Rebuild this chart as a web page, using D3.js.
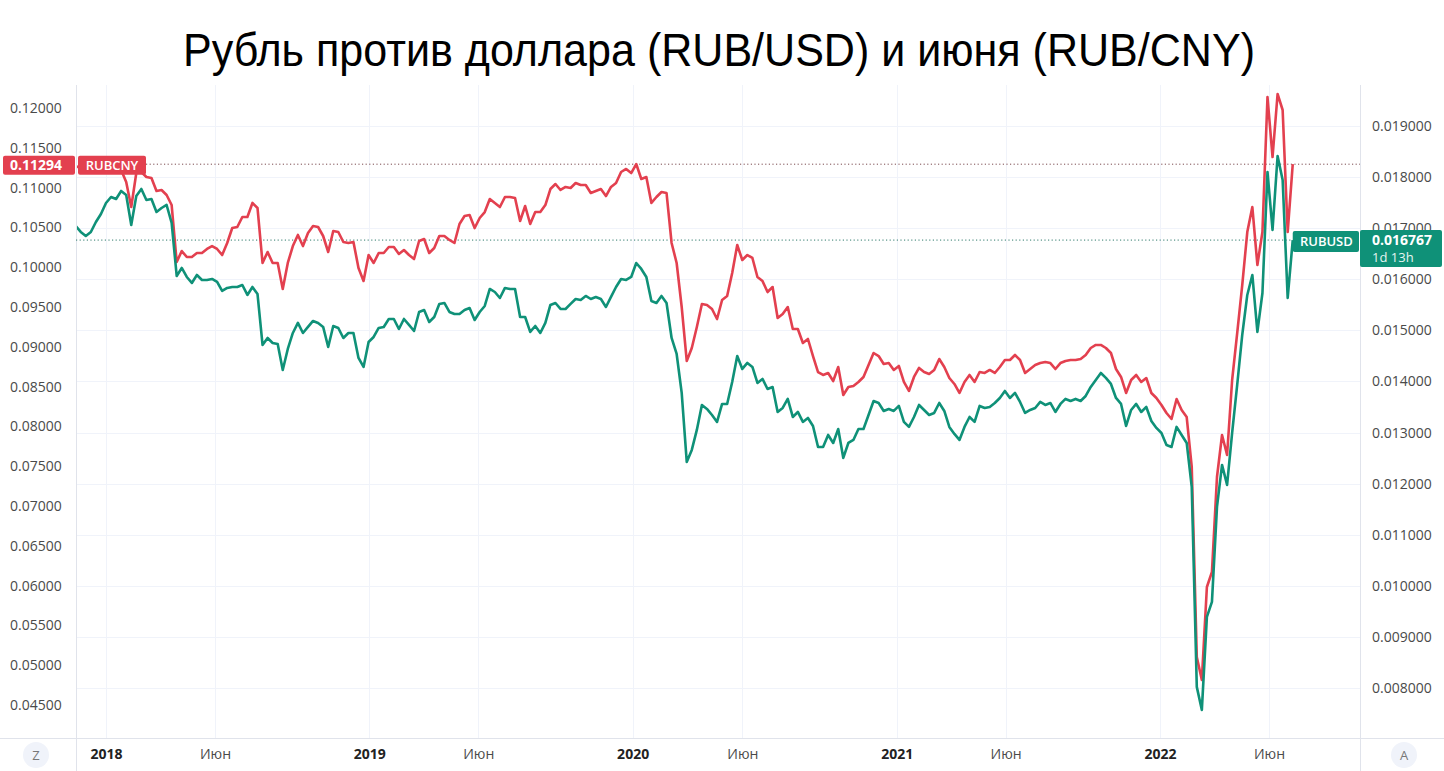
<!DOCTYPE html>
<html><head><meta charset="utf-8">
<script src="https://cdn.jsdelivr.net/npm/d3@7"></script>
<style>body{margin:0;background:#fff}svg{display:block}</style>
</head><body>
<svg id="c" width="1444" height="771"></svg>
<script>
// ---- data (weekly closes, first bar 2017-11-20) ----
const startDate = "2017-11-20";
const rubusd = [
0.017043,0.016926,0.016847,0.016926,0.017121,0.017278,0.017493,0.017611,0.017571,0.017728,
0.017650,0.017063,0.017630,0.017767,0.017552,0.017571,0.017317,0.017395,0.017454,0.017102,
0.016065,0.016221,0.016045,0.015928,0.016084,0.015986,0.015986,0.016006,0.015947,0.015771,
0.015830,0.015849,0.015849,0.015888,0.015693,0.015849,0.015712,0.014714,0.014851,0.014753,
0.014734,0.014225,0.014636,0.014949,0.015145,0.014949,0.015067,0.015184,0.015145,0.015067,
0.014675,0.015086,0.015047,0.014851,0.014949,0.014949,0.014460,0.014284,0.014773,0.014871,
0.015047,0.015067,0.015223,0.015223,0.015027,0.015223,0.015106,0.014988,0.015360,0.015399,
0.015164,0.015262,0.015517,0.015536,0.015360,0.015321,0.015321,0.015399,0.015438,0.015204,
0.015360,0.015477,0.015810,0.015751,0.015634,0.015830,0.015810,0.015810,0.015262,0.015262,
0.014969,0.015086,0.014949,0.015145,0.015497,0.015536,0.015419,0.015419,0.015517,0.015614,
0.015595,0.015673,0.015614,0.015654,0.015614,0.015458,0.015654,0.015849,0.016006,0.015986,
0.016045,0.016319,0.016202,0.016045,0.015575,0.015536,0.015673,0.015536,0.014851,0.014538,
0.013775,0.012425,0.012660,0.013051,0.013540,0.013462,0.013344,0.013208,0.013560,0.013560,
0.013990,0.014499,0.014245,0.014362,0.014284,0.013971,0.014049,0.013853,0.013892,0.013403,
0.013481,0.013658,0.013305,0.013403,0.013208,0.013286,0.013129,0.012718,0.012718,0.012953,
0.012796,0.013070,0.012503,0.012796,0.012855,0.013070,0.013070,0.013344,0.013618,0.013579,
0.013423,0.013462,0.013423,0.013521,0.013208,0.013110,0.013305,0.013540,0.013442,0.013344,
0.013384,0.013579,0.013423,0.013110,0.012973,0.012855,0.013110,0.013305,0.013208,0.013521,
0.013481,0.013501,0.013579,0.013677,0.013814,0.013677,0.013775,0.013599,0.013384,0.013442,
0.013481,0.013599,0.013540,0.013579,0.013403,0.013560,0.013658,0.013618,0.013658,0.013618,
0.013716,0.013892,0.014029,0.014166,0.014069,0.013951,0.013677,0.013560,0.013129,0.013442,
0.013560,0.013403,0.013501,0.013227,0.013090,0.012992,0.012757,0.012718,0.013110,0.012953,
0.012796,0.011935,0.008022,0.007571,0.009391,0.009685,0.011544,0.012366,0.011975,0.012992,
0.013932,0.014910,0.015693,0.016084,0.014969,0.015732,0.018100,0.016965,0.018413,0.017943,
0.015634,0.016767];
const rubcny = [
0.11271,0.11246,0.11196,0.11246,0.11296,0.11322,0.11347,0.11372,0.11347,0.11221,
0.11070,0.10756,0.11183,0.11196,0.11133,0.11121,0.10957,0.10970,0.10907,0.10781,
0.10065,0.10203,0.10128,0.10128,0.10178,0.10178,0.10229,0.10266,0.10229,0.10153,
0.10304,0.10492,0.10505,0.10631,0.10631,0.10807,0.10744,0.10053,0.10191,0.10053,
0.10053,0.09726,0.10053,0.10266,0.10405,0.10266,0.10430,0.10518,0.10505,0.10392,
0.10191,0.10455,0.10442,0.10317,0.10304,0.10317,0.09990,0.09827,0.10153,0.10053,
0.10178,0.10178,0.10254,0.10254,0.10166,0.10216,0.10153,0.10103,0.10329,0.10354,
0.10178,0.10241,0.10392,0.10392,0.10342,0.10304,0.10543,0.10643,0.10656,0.10492,
0.10618,0.10693,0.10857,0.10807,0.10756,0.10882,0.10882,0.10869,0.10580,0.10769,
0.10543,0.10693,0.10693,0.10781,0.10982,0.11045,0.10970,0.11008,0.10995,0.11058,
0.11033,0.11033,0.10932,0.10957,0.10982,0.10894,0.11008,0.11058,0.11196,0.11234,
0.11183,0.11296,0.11108,0.11133,0.10807,0.10882,0.10945,0.10932,0.10304,0.10053,
0.09500,0.08822,0.08985,0.09249,0.09538,0.09525,0.09475,0.09349,0.09588,0.09638,
0.09927,0.10279,0.10090,0.10153,0.10116,0.09877,0.09827,0.09688,0.09751,0.09362,
0.09412,0.09500,0.09224,0.09224,0.09048,0.09098,0.08884,0.08683,0.08646,0.08671,
0.08570,0.08746,0.08394,0.08495,0.08508,0.08558,0.08621,0.08771,0.08922,0.08884,
0.08784,0.08796,0.08709,0.08759,0.08558,0.08445,0.08621,0.08734,0.08683,0.08658,
0.08709,0.08847,0.08746,0.08608,0.08533,0.08420,0.08558,0.08646,0.08558,0.08683,
0.08671,0.08709,0.08671,0.08746,0.08834,0.08834,0.08897,0.08834,0.08671,0.08721,
0.08771,0.08796,0.08809,0.08796,0.08721,0.08796,0.08822,0.08834,0.08834,0.08847,
0.08897,0.08985,0.09023,0.09023,0.08985,0.08922,0.08721,0.08621,0.08420,0.08583,
0.08646,0.08558,0.08608,0.08420,0.08357,0.08269,0.08168,0.08093,0.08344,0.08206,
0.08118,0.07490,0.05103,0.04814,0.05982,0.06171,0.07364,0.07892,0.07641,0.08583,
0.09173,0.09776,0.10442,0.10756,0.10028,0.10442,0.12138,0.11384,0.12176,0.11975,
0.10442,0.11294];
const leftTicks = [0.045,0.05,0.055,0.06,0.065,0.07,0.075,0.08,0.085,0.09,0.095,0.10,0.105,0.11,0.115,0.12];
const rightTicks = [0.008,0.009,0.010,0.011,0.012,0.013,0.014,0.015,0.016,0.017,0.018,0.019];
const timeTickDates = ["2018-01-01","2018-06-01","2019-01-01","2019-06-01","2020-01-01","2020-06-01","2021-01-01","2021-06-01","2022-01-01","2022-06-01"];
const timeTickLabels = ["2018","Июн","2019","Июн","2020","Июн","2021","Июн","2022","Июн"];
const titleText = "Рубль против доллара (RUB/USD) и июня (RUB/CNY)";
const seriesNames = ["RUBCNY","RUBUSD"];
const countdown = "1d 13h";

// ---- layout ----
const W = 1444, H = 771;
const P = {left:76, right:1360, top:85, bottom:738};
const RED = "#e3404f", GREEN = "#0f9178";
const GRID = "#f0f3fa", BORDER = "#e0e3eb";
const FONT = "'Open Sans', 'Noto Sans', sans-serif";

const svg = d3.select("#c");
const parse = d3.utcParse("%Y-%m-%d");
const start = parse(startDate);
const dates = rubusd.map((_, i) => d3.utcDay.offset(start, 7 * i));

const x = d3.scaleUtc().domain([parse("2018-01-01"), parse("2022-01-01")]).range([106, 1160]);
const yL = d3.scaleLinear().domain([0.045, 0.12]).range([705, 108]);
const yR = d3.scaleLinear().domain([0.008, 0.019]).range([688, 126]);

svg.append("rect").attr("width", W).attr("height", H).attr("fill", "#fff");

// grid
const g = svg.append("g");
g.selectAll(".hg").data(rightTicks).join("line")
  .attr("x1", P.left).attr("x2", P.right)
  .attr("y1", d => Math.round(yR(d)) + 0.5).attr("y2", d => Math.round(yR(d)) + 0.5)
  .attr("stroke", GRID).attr("stroke-width", 1);
g.selectAll(".vg").data(timeTickDates).join("line")
  .attr("x1", d => Math.round(x(parse(d))) + 0.5).attr("x2", d => Math.round(x(parse(d))) + 0.5)
  .attr("y1", P.top).attr("y2", P.bottom)
  .attr("stroke", GRID).attr("stroke-width", 1);

// borders
svg.append("line").attr("x1", P.left + 0.5).attr("x2", P.left + 0.5).attr("y1", P.top).attr("y2", H).attr("stroke", BORDER);
svg.append("line").attr("x1", P.right + 0.5).attr("x2", P.right + 0.5).attr("y1", P.top).attr("y2", H).attr("stroke", BORDER);
svg.append("line").attr("x1", 0).attr("x2", W).attr("y1", P.bottom + 0.5).attr("y2", P.bottom + 0.5).attr("stroke", BORDER);

// clip
svg.append("clipPath").attr("id", "clip").append("rect")
  .attr("x", P.left + 1).attr("y", P.top).attr("width", P.right - P.left - 1).attr("height", P.bottom - P.top);

// price lines (dotted)
const lastC = rubcny[rubcny.length - 1], lastU = rubusd[rubusd.length - 1];
const lastX = x(dates[dates.length - 1]);
svg.append("line").attr("x1", 146).attr("x2", P.right).attr("y1", yL(lastC)).attr("y2", yL(lastC))
  .attr("stroke", "#7a4a4f").attr("stroke-dasharray", "1.2,2.4").attr("stroke-width", 1);
svg.append("line").attr("x1", P.left).attr("x2", lastX).attr("y1", yR(lastU)).attr("y2", yR(lastU))
  .attr("stroke", "#2f7a6c").attr("stroke-dasharray", "1.2,2.4").attr("stroke-width", 1);

// series
const lines = svg.append("g").attr("clip-path", "url(#clip)");
lines.append("path").datum(rubcny)
  .attr("d", d3.line().x((d, i) => x(dates[i])).y(d => yL(d)))
  .attr("fill", "none").attr("stroke", RED).attr("stroke-width", 2.6).attr("stroke-linejoin", "round");
lines.append("path").datum(rubusd)
  .attr("d", d3.line().x((d, i) => x(dates[i])).y(d => yR(d)))
  .attr("fill", "none").attr("stroke", GREEN).attr("stroke-width", 2.6).attr("stroke-linejoin", "round");

// axes
const styleAxis = (sel) => { sel.select(".domain").remove(); sel.selectAll("line").remove(); };
const aL = svg.append("g")
  .call(d3.axisRight(yL).tickValues(leftTicks).tickFormat(d3.format(".5f")).tickSize(0).tickPadding(10));
styleAxis(aL);
aL.selectAll("text").attr("font-family", FONT).attr("font-size", 14).attr("fill", "#4a4a4a");

const aR = svg.append("g").attr("transform", `translate(${P.right},0)`)
  .call(d3.axisRight(yR).tickValues(rightTicks).tickFormat(d3.format(".6f")).tickSize(0).tickPadding(12));
styleAxis(aR);
aR.selectAll("text").attr("font-family", FONT).attr("font-size", 14).attr("fill", "#4a4a4a");

const aB = svg.append("g").attr("transform", `translate(0,${P.bottom})`)
  .call(d3.axisBottom(x).tickValues(timeTickDates.map(parse)).tickFormat((d, i) => timeTickLabels[i]).tickSize(0).tickPadding(11));
styleAxis(aB);
aB.selectAll("text").attr("font-family", FONT).attr("font-size", 14)
  .attr("fill", (d, i) => /\d/.test(timeTickLabels[i]) ? "#222" : "#4a4a4a")
  .attr("font-weight", (d, i) => /\d/.test(timeTickLabels[i]) ? 700 : 400);

// corner buttons
[["Z", 36], ["A", 1404]].forEach(([t, cx]) => {
  svg.append("circle").attr("cx", cx).attr("cy", 755).attr("r", 13).attr("fill", "#f0f3fa");
  svg.append("text").attr("x", cx).attr("y", 755).attr("dy", "0.35em").attr("text-anchor", "middle")
    .attr("font-family", FONT).attr("font-size", 13).attr("fill", "#777").text(t);
});

// red labels (left)
const cyC = yL(lastC) + 1;
svg.append("rect").attr("x", 3).attr("y", cyC - 9.5).attr("width", 72).attr("height", 19).attr("rx", 2).attr("fill", RED);
svg.append("text").attr("x", 10).attr("y", cyC).attr("dy", "0.35em").attr("font-family", FONT)
  .attr("font-size", 14).attr("font-weight", 700).attr("fill", "#fff").text(d3.format(".5f")(lastC));
svg.append("rect").attr("x", 78).attr("y", cyC - 9.5).attr("width", 68).attr("height", 19).attr("rx", 2).attr("fill", RED);
svg.append("text").attr("x", 112).attr("y", cyC).attr("dy", "0.35em").attr("text-anchor", "middle").attr("font-family", FONT)
  .attr("font-size", 13).attr("font-weight", 600).attr("fill", "#fff").text(seriesNames[0]);

// green labels (right)
const cyU = yR(lastU) + 1;
svg.append("rect").attr("x", lastX).attr("y", cyU - 10).attr("width", P.right - lastX - 1).attr("height", 21).attr("rx", 2).attr("fill", GREEN);
svg.append("text").attr("x", (lastX + P.right) / 2).attr("y", cyU).attr("dy", "0.35em").attr("text-anchor", "middle").attr("font-family", FONT)
  .attr("font-size", 13).attr("font-weight", 600).attr("fill", "#fff").text(seriesNames[1]);
svg.append("rect").attr("x", P.right).attr("y", cyU - 11).attr("width", 82).attr("height", 37).attr("rx", 2).attr("fill", GREEN);
svg.append("text").attr("x", P.right + 12).attr("y", cyU - 1).attr("dy", "0.35em").attr("font-family", FONT)
  .attr("font-size", 14).attr("font-weight", 700).attr("fill", "#fff").text(d3.format(".6f")(lastU));
svg.append("text").attr("x", P.right + 12).attr("y", cyU + 16).attr("dy", "0.35em").attr("font-family", FONT)
  .attr("font-size", 13).attr("fill", "#e6f4f1").text(countdown);

// title
svg.append("text").attr("x", 183).attr("y", 66)
  .attr("font-family", "'Liberation Sans Narrow','Liberation Sans',Arial,sans-serif")
  .attr("font-size", 46).attr("fill", "#000")
  .attr("textLength", 1072).attr("lengthAdjust", "spacingAndGlyphs")
  .text(titleText);
</script>
</body></html>
